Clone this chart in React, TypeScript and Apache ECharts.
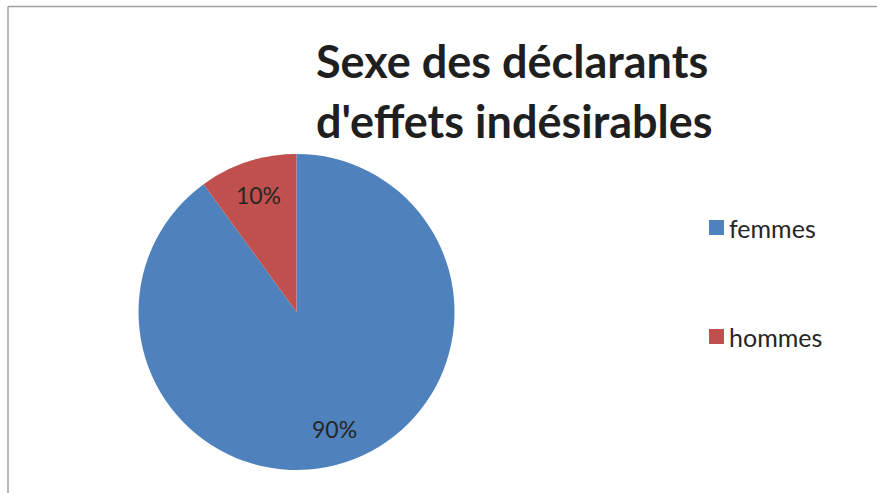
import React, { useEffect, useRef } from "react";
import * as echarts from "echarts";

const titleLines = ["Sexe des déclarants", "d'effets indésirables"];
const categories = ["femmes", "hommes"];
const values = [90, 10];
const colors = ["#4F81BD", "#C0504D"];

export default function App() {
  const ref = useRef<HTMLDivElement>(null);
  useEffect(() => {
    if (!ref.current) return;
    const chart = echarts.init(ref.current, undefined, { renderer: "svg" });
    const data = categories.map((name, i) => ({ name, value: values[i] }));
    chart.setOption({
      animation: false,
      backgroundColor: "#ffffff",
      color: colors,
      title: {
        text: titleLines.join("\n"),
        left: 311,
        top: 26,
        textStyle: {
          fontFamily: "Lato",
          fontWeight: "bold",
          fontSize: 45,
          lineHeight: 60,
          color: "#1f1f1f",
        },
      },
      legend: {
        orient: "vertical",
        left: 704,
        top: 210,
        itemWidth: 15,
        itemHeight: 15,
        itemGap: 84,
        icon: "rect",
        data: categories,
        textStyle: {
          fontFamily: "Lato",
          fontSize: 25,
          lineHeight: 24,
          color: "#262626",
        },
      },
      graphic: [
        {
          type: "line",
          shape: { x1: 8, y1: 6.5, x2: 877, y2: 6.5 },
          style: { stroke: "#A0A0A0", lineWidth: 1.5 },
        },
        {
          type: "line",
          shape: { x1: 8, y1: 6.5, x2: 8, y2: 493 },
          style: { stroke: "#A0A0A0", lineWidth: 1.5 },
        },
      ],
      series: [
        {
          type: "pie",
          center: [296.5, 312],
          radius: [0, 158],
          startAngle: 90,
          clockwise: true,
          data,
          label: { show: false },
          labelLine: { show: false },
          itemStyle: { borderWidth: 0 },
          emphasis: { disabled: true },
          silent: true,
        },
        {
          type: "pie",
          center: [296.5, 312],
          radius: [0, 240],
          startAngle: 90,
          clockwise: true,
          data,
          itemStyle: { color: "rgba(0,0,0,0)", borderWidth: 0 },
          label: {
            show: true,
            position: "inside",
            formatter: "{c}%",
            fontFamily: "Lato",
            fontSize: 23,
            color: "#262626",
          },
          labelLine: { show: false },
          emphasis: { disabled: true },
          silent: true,
        },
      ],
    });
    return () => chart.dispose();
  }, []);
  return (
    <div
      ref={ref}
      style={{ position: "absolute", left: 0, top: 0, width: 877, height: 493 }}
    />
  );
}
